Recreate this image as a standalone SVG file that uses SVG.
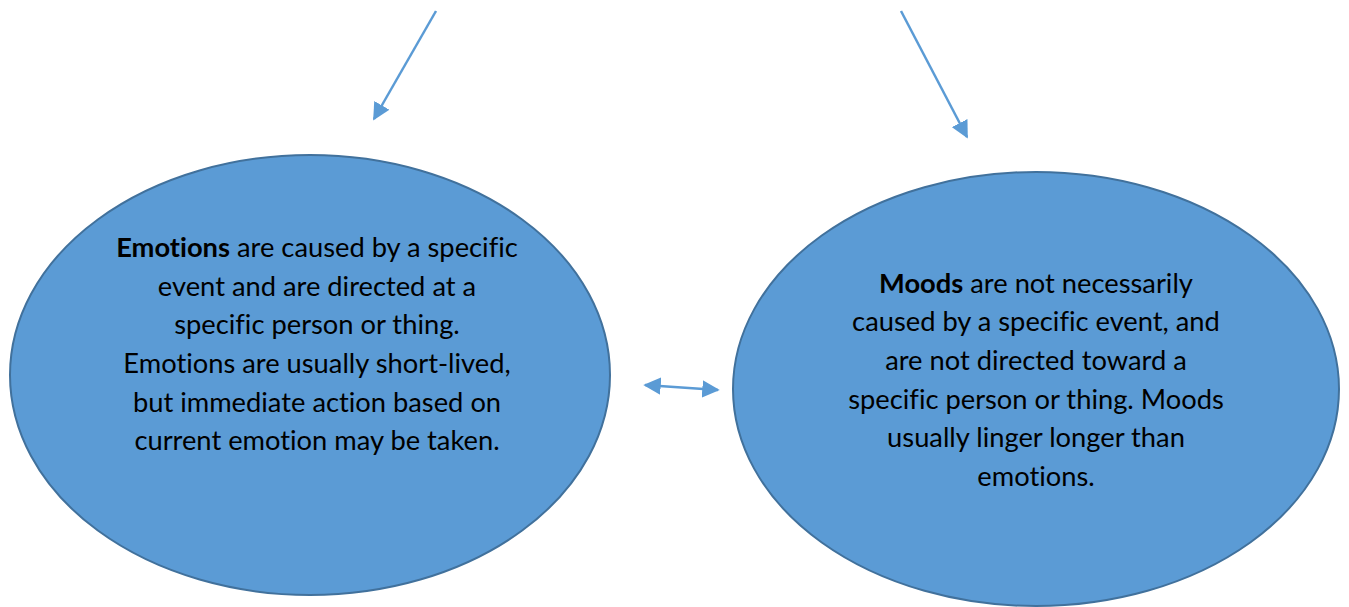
<svg xmlns="http://www.w3.org/2000/svg" width="1349" height="607" viewBox="0 0 1349 607">
<style>
.node{fill:#5B9BD5;stroke:#41719C;stroke-width:2}
.t{font-family:Lato,"Liberation Sans",sans-serif;font-size:27.3px;fill:#000;text-anchor:middle;font-variant-ligatures:none}
.b{font-weight:bold}
.c{stroke:#5B9BD5;stroke-width:2.5;fill:none}
</style>
<defs>
<marker id="ah" viewBox="0 0 10 10" refX="9" refY="5" markerWidth="7" markerHeight="7" orient="auto-start-reverse" markerUnits="strokeWidth">
<path d="M0,0 L10,5 L0,10 Z" fill="#5B9BD5"/>
</marker>
</defs>
<rect width="1349" height="607" fill="#fff"/>
<g id="connectors">
<line class="c" x1="436" y1="11" x2="374" y2="119" marker-end="url(#ah)"/>
<line class="c" x1="901" y1="11" x2="967" y2="137" marker-end="url(#ah)"/>
<line class="c" x1="645" y1="385" x2="718" y2="390" marker-start="url(#ah)" marker-end="url(#ah)"/>
</g>
<g id="emotions">
<ellipse class="node" cx="310" cy="375" rx="300" ry="220"/>
<text class="t" x="317" y="257"><tspan class="b">Emotions</tspan> are caused by a specific</text>
<text class="t" x="317" y="296">event and are directed at a</text>
<text class="t" x="317" y="334">specific person or thing.</text>
<text class="t" x="317" y="373">Emotions are usually short-lived,</text>
<text class="t" x="317" y="412">but immediate action based on</text>
<text class="t" x="317" y="450">current emotion may be taken.</text>
</g>
<g id="moods">
<ellipse class="node" cx="1036" cy="389" rx="303" ry="217"/>
<text class="t" x="1036" y="293"><tspan class="b">Moods</tspan> are not necessarily</text>
<text class="t" x="1036" y="331">caused by a specific event, and</text>
<text class="t" x="1036" y="370">are not directed toward a</text>
<text class="t" x="1036" y="409">specific person or thing. Moods</text>
<text class="t" x="1036" y="447">usually linger longer than</text>
<text class="t" x="1036" y="486">emotions.</text>
</g>
</svg>
